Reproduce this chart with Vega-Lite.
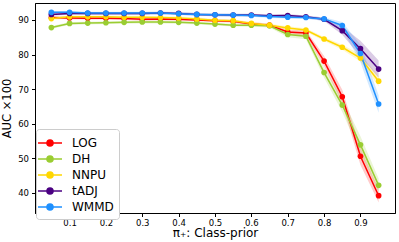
{
  "$schema": "https://vega.github.io/schema/vega-lite/v6.json",
  "width": 360,
  "height": 210,
  "autosize": "none",
  "padding": {"left": 35, "top": 3, "right": 4, "bottom": 29},
  "config": {
    "view": {"stroke": "black", "strokeWidth": 1},
    "font": "DejaVu Sans",
    "axis": {"grid": false, "domainColor": "black", "tickColor": "black", "labelColor": "black", "titleColor": "black", "labelFont": "DejaVu Sans", "titleFont": "DejaVu Sans", "labelFontSize": 8.5, "titleFontSize": 12, "titleFontWeight": "normal", "tickSize": 3.5}
  },
  "data": {"values": [
    {"m":"LOG","x":0.05,"v":90.7,"lo":90.3,"hi":91.1},
    {"m":"LOG","x":0.10,"v":90.6,"lo":90.2,"hi":91.0},
    {"m":"LOG","x":0.15,"v":90.5,"lo":90.1,"hi":90.9},
    {"m":"LOG","x":0.20,"v":90.5,"lo":90.1,"hi":90.9},
    {"m":"LOG","x":0.25,"v":90.4,"lo":90.0,"hi":90.8},
    {"m":"LOG","x":0.30,"v":90.2,"lo":89.8,"hi":90.6},
    {"m":"LOG","x":0.35,"v":90.3,"lo":89.9,"hi":90.7},
    {"m":"LOG","x":0.40,"v":90.2,"lo":89.8,"hi":90.6},
    {"m":"LOG","x":0.45,"v":90.0,"lo":89.6,"hi":90.4},
    {"m":"LOG","x":0.50,"v":89.8,"lo":89.4,"hi":90.2},
    {"m":"LOG","x":0.55,"v":89.6,"lo":89.2,"hi":90.0},
    {"m":"LOG","x":0.60,"v":88.8,"lo":88.3,"hi":89.3},
    {"m":"LOG","x":0.65,"v":88.5,"lo":88.0,"hi":89.0},
    {"m":"LOG","x":0.70,"v":86.5,"lo":85.8,"hi":87.2},
    {"m":"LOG","x":0.75,"v":86.2,"lo":85.4,"hi":87.0},
    {"m":"LOG","x":0.80,"v":78.1,"lo":76.6,"hi":79.6},
    {"m":"LOG","x":0.85,"v":67.8,"lo":65.8,"hi":69.8},
    {"m":"LOG","x":0.90,"v":50.6,"lo":48.1,"hi":53.1},
    {"m":"LOG","x":0.95,"v":39.2,"lo":37.2,"hi":41.2},
    {"m":"DH","x":0.05,"v":87.8,"lo":87.4,"hi":88.2},
    {"m":"DH","x":0.10,"v":89.0,"lo":88.6,"hi":89.4},
    {"m":"DH","x":0.15,"v":89.1,"lo":88.7,"hi":89.5},
    {"m":"DH","x":0.20,"v":89.2,"lo":88.8,"hi":89.6},
    {"m":"DH","x":0.25,"v":89.3,"lo":88.9,"hi":89.7},
    {"m":"DH","x":0.30,"v":89.4,"lo":89.0,"hi":89.8},
    {"m":"DH","x":0.35,"v":89.4,"lo":89.0,"hi":89.8},
    {"m":"DH","x":0.40,"v":89.3,"lo":88.9,"hi":89.7},
    {"m":"DH","x":0.45,"v":89.1,"lo":88.7,"hi":89.5},
    {"m":"DH","x":0.50,"v":88.8,"lo":88.4,"hi":89.2},
    {"m":"DH","x":0.55,"v":88.5,"lo":88.1,"hi":88.9},
    {"m":"DH","x":0.60,"v":88.5,"lo":88.0,"hi":89.0},
    {"m":"DH","x":0.65,"v":88.3,"lo":87.8,"hi":88.8},
    {"m":"DH","x":0.70,"v":85.8,"lo":85.0,"hi":86.6},
    {"m":"DH","x":0.75,"v":85.3,"lo":84.4,"hi":86.2},
    {"m":"DH","x":0.80,"v":74.8,"lo":73.3,"hi":76.3},
    {"m":"DH","x":0.85,"v":65.4,"lo":63.4,"hi":67.4},
    {"m":"DH","x":0.90,"v":53.9,"lo":51.4,"hi":56.4},
    {"m":"DH","x":0.95,"v":42.2,"lo":40.2,"hi":44.2},
    {"m":"NNPU","x":0.05,"v":90.4,"lo":90.0,"hi":90.8},
    {"m":"NNPU","x":0.10,"v":90.9,"lo":90.5,"hi":91.3},
    {"m":"NNPU","x":0.15,"v":90.9,"lo":90.5,"hi":91.3},
    {"m":"NNPU","x":0.20,"v":90.9,"lo":90.5,"hi":91.3},
    {"m":"NNPU","x":0.25,"v":90.8,"lo":90.4,"hi":91.2},
    {"m":"NNPU","x":0.30,"v":90.8,"lo":90.4,"hi":91.2},
    {"m":"NNPU","x":0.35,"v":90.7,"lo":90.3,"hi":91.1},
    {"m":"NNPU","x":0.40,"v":90.6,"lo":90.2,"hi":91.0},
    {"m":"NNPU","x":0.45,"v":90.3,"lo":89.9,"hi":90.7},
    {"m":"NNPU","x":0.50,"v":89.9,"lo":89.5,"hi":90.3},
    {"m":"NNPU","x":0.55,"v":89.8,"lo":89.4,"hi":90.2},
    {"m":"NNPU","x":0.60,"v":89.0,"lo":88.6,"hi":89.4},
    {"m":"NNPU","x":0.65,"v":88.5,"lo":88.1,"hi":88.9},
    {"m":"NNPU","x":0.70,"v":87.7,"lo":87.2,"hi":88.2},
    {"m":"NNPU","x":0.75,"v":87.1,"lo":86.6,"hi":87.6},
    {"m":"NNPU","x":0.80,"v":84.5,"lo":83.9,"hi":85.1},
    {"m":"NNPU","x":0.85,"v":82.1,"lo":81.4,"hi":82.8},
    {"m":"NNPU","x":0.90,"v":79.0,"lo":78.0,"hi":80.0},
    {"m":"NNPU","x":0.95,"v":72.3,"lo":70.8,"hi":73.8},
    {"m":"tADJ","x":0.05,"v":91.6,"lo":91.2,"hi":92.0},
    {"m":"tADJ","x":0.10,"v":91.9,"lo":91.5,"hi":92.3},
    {"m":"tADJ","x":0.15,"v":91.9,"lo":91.5,"hi":92.3},
    {"m":"tADJ","x":0.20,"v":91.9,"lo":91.5,"hi":92.3},
    {"m":"tADJ","x":0.25,"v":91.9,"lo":91.5,"hi":92.3},
    {"m":"tADJ","x":0.30,"v":91.9,"lo":91.5,"hi":92.3},
    {"m":"tADJ","x":0.35,"v":92.0,"lo":91.6,"hi":92.4},
    {"m":"tADJ","x":0.40,"v":91.9,"lo":91.5,"hi":92.3},
    {"m":"tADJ","x":0.45,"v":91.6,"lo":91.2,"hi":92.0},
    {"m":"tADJ","x":0.50,"v":91.5,"lo":91.1,"hi":91.9},
    {"m":"tADJ","x":0.55,"v":91.4,"lo":91.0,"hi":91.8},
    {"m":"tADJ","x":0.60,"v":91.4,"lo":91.0,"hi":91.8},
    {"m":"tADJ","x":0.65,"v":91.2,"lo":90.8,"hi":91.6},
    {"m":"tADJ","x":0.70,"v":91.3,"lo":90.9,"hi":91.7},
    {"m":"tADJ","x":0.75,"v":90.9,"lo":90.5,"hi":91.3},
    {"m":"tADJ","x":0.80,"v":90.2,"lo":89.7,"hi":90.7},
    {"m":"tADJ","x":0.85,"v":86.9,"lo":85.7,"hi":88.1},
    {"m":"tADJ","x":0.90,"v":81.7,"lo":79.4,"hi":84.0},
    {"m":"tADJ","x":0.95,"v":75.8,"lo":73.3,"hi":78.3},
    {"m":"WMMD","x":0.05,"v":92.2,"lo":91.8,"hi":92.6},
    {"m":"WMMD","x":0.10,"v":92.2,"lo":91.8,"hi":92.6},
    {"m":"WMMD","x":0.15,"v":92.0,"lo":91.6,"hi":92.4},
    {"m":"WMMD","x":0.20,"v":92.0,"lo":91.6,"hi":92.4},
    {"m":"WMMD","x":0.25,"v":92.0,"lo":91.6,"hi":92.4},
    {"m":"WMMD","x":0.30,"v":92.0,"lo":91.6,"hi":92.4},
    {"m":"WMMD","x":0.35,"v":92.0,"lo":91.6,"hi":92.4},
    {"m":"WMMD","x":0.40,"v":91.8,"lo":91.4,"hi":92.2},
    {"m":"WMMD","x":0.45,"v":91.6,"lo":91.2,"hi":92.0},
    {"m":"WMMD","x":0.50,"v":91.5,"lo":91.1,"hi":91.9},
    {"m":"WMMD","x":0.55,"v":91.4,"lo":91.0,"hi":91.8},
    {"m":"WMMD","x":0.60,"v":91.3,"lo":90.9,"hi":91.7},
    {"m":"WMMD","x":0.65,"v":91.0,"lo":90.6,"hi":91.4},
    {"m":"WMMD","x":0.70,"v":90.8,"lo":90.4,"hi":91.2},
    {"m":"WMMD","x":0.75,"v":90.7,"lo":90.3,"hi":91.1},
    {"m":"WMMD","x":0.80,"v":90.3,"lo":89.8,"hi":90.8},
    {"m":"WMMD","x":0.85,"v":88.4,"lo":87.4,"hi":89.4},
    {"m":"WMMD","x":0.90,"v":80.3,"lo":77.8,"hi":82.8},
    {"m":"WMMD","x":0.95,"v":65.7,"lo":63.2,"hi":68.2}
  ]},
  "encoding": {
    "x": {"field": "x", "type": "quantitative", "scale": {"domain": [0.005, 0.995], "nice": false, "zero": false},
      "axis": {"values": [0.1,0.2,0.3,0.4,0.5,0.6,0.7,0.8,0.9], "format": ".1f", "title": "π₊: Class-prior", "titlePadding": 1, "labelPadding": 1.5, "titleFontSize": 12}},
    "color": {"field": "m", "type": "nominal",
      "scale": {"domain": ["LOG","DH","NNPU","tADJ","WMMD"], "range": ["#ff0000","#9acd32","#ffd700","#4b0082","#1e90ff"]},
      "legend": {"title": null, "orient": "none", "legendX": 1, "legendY": 126, "fillColor": "white", "strokeColor": "#cccccc", "cornerRadius": 3, "padding": 5,
        "symbolType": "M-1.5,0L1.5,0M-0.38,0A0.38,0.38 0 1,0 0.38,0A0.38,0.38 0 1,0 -0.38,0",
        "symbolSize": 256, "labelFontSize": 12, "labelFont": "DejaVu Sans", "labelOffset": 13, "rowPadding": 0, "labelColor": "black",
        "encode": {"symbols": {"update": {"fill": {"scale": "color", "field": "value"}, "stroke": {"scale": "color", "field": "value"}, "strokeWidth": {"value": 1.5}, "opacity": {"value": 1}, "fillOpacity": {"value": 1}, "strokeOpacity": {"value": 1}}}}}
    }
  },
  "layer": [
    {"mark": {"type": "area", "opacity": 0.2, "clip": true},
     "encoding": {"y": {"field": "lo", "type": "quantitative"}, "y2": {"field": "hi"}}},
    {"mark": {"type": "line", "strokeWidth": 1.5, "clip": true},
     "encoding": {"y": {"field": "v", "type": "quantitative", "scale": {"domain": [34.2, 94.9], "nice": false, "zero": false},
        "axis": {"values": [40,50,60,70,80,90], "title": "AUC ×100", "titlePadding": 5, "labelPadding": 3, "titleFontSize": 11.5}}}},
    {"mark": {"type": "point", "filled": true, "size": 32, "opacity": 1, "clip": true},
     "encoding": {"y": {"field": "v", "type": "quantitative"}}}
  ]
}
